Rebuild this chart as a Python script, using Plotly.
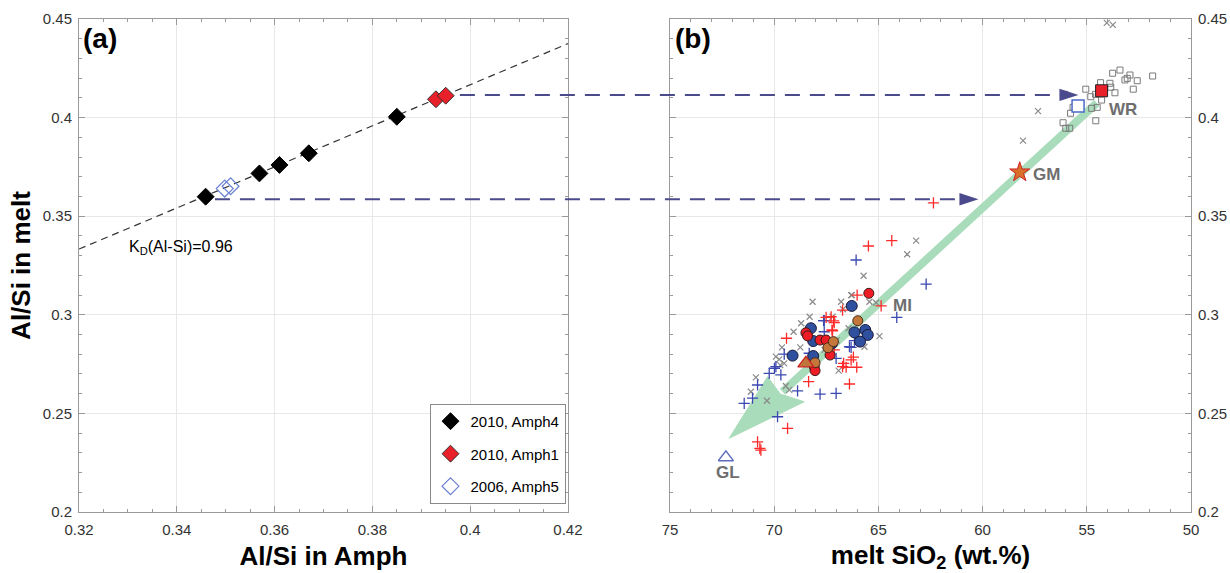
import plotly.graph_objects as go

# ---------------- data: panel (a) ----------------
amph4_x = [0.3459, 0.3569, 0.3610, 0.3670, 0.3850]
amph4_y = [0.3599, 0.3717, 0.3760, 0.3819, 0.4004]
amph1_x = [0.3930, 0.3950]
amph1_y = [0.4093, 0.4111]
amph5_x = [0.3498, 0.3510]
amph5_y = [0.3640, 0.3652]
KD = 0.96
kd_line_x = [0.32, 0.42]

# projection lines (Al/Si in melt) from panel (a) to panel (b)
proj_y = [0.4115, 0.3586]
proj_start_amph = [0.3979, 0.3478]
proj_end_sio2 = [55.40, 60.20]

# ---------------- data: panel (b) ----------------
wr_sq_x = [56.06, 55.05, 54.81, 54.58, 54.34, 53.89, 53.85, 53.65, 53.76, 53.41, 53.06, 52.93,
           53.17, 52.58, 52.77, 51.84, 54.29, 54.50, 54.77, 55.66, 55.78, 54.57, 56.14, 56.01, 55.82]
wr_sq_y = [0.4118, 0.4144, 0.4106, 0.4118, 0.4177, 0.4174, 0.4154, 0.4126, 0.4225, 0.4241, 0.4199, 0.4216,
           0.4191, 0.4187, 0.4144, 0.4211, 0.4089, 0.4052, 0.4047, 0.4052, 0.4022, 0.3984, 0.3974, 0.3946, 0.3946]

gray_x_x = [54.04, 53.75, 57.34, 58.06, 63.19, 63.62, 65.71, 68.16, 66.31, 66.79, 65.43, 67.20, 64.95,
            66.43, 68.71, 69.07, 69.63, 68.75, 69.76, 69.52, 69.71, 70.88, 71.12, 70.35, 69.28, 69.44,
            66.91, 65.67, 66.70, 66.27, 67.58, 65.11, 69.92, 67.00, 68.30]
gray_x_y = [0.4480, 0.4470, 0.4033, 0.3883, 0.3376, 0.3307, 0.3198, 0.3066, 0.3100, 0.3066, 0.3066, 0.2990, 0.2892,
            0.2932, 0.2957, 0.2914, 0.2835, 0.2835, 0.2774, 0.2754, 0.2745, 0.2683, 0.2610, 0.2564, 0.2619, 0.2639,
            0.2717, 0.2838, 0.3028, 0.3100, 0.2822, 0.3061, 0.2788, 0.2870, 0.2990]

red_plus_x = [62.36, 65.48, 64.36, 66.02, 64.87, 66.72, 67.12, 67.20, 66.31, 66.72, 69.41, 68.35, 69.36,
              70.80, 70.69, 70.64, 66.39, 66.04, 66.55, 66.67, 66.20, 67.12, 67.23, 67.15, 67.51, 67.27]
red_plus_y = [0.3568, 0.3349, 0.3376, 0.3100, 0.3045, 0.3024, 0.2960, 0.2919, 0.2771, 0.2737, 0.2881, 0.2661, 0.2424,
              0.2356, 0.2323, 0.2314, 0.2649, 0.2734, 0.2734, 0.2754, 0.2785, 0.2822, 0.2923, 0.2969, 0.2987, 0.2990]

blue_plus_x = [66.07, 62.71, 64.12, 67.60, 67.60, 66.31, 67.03, 69.52, 69.92, 68.32, 69.99, 69.68, 70.24,
               70.80, 71.04, 71.44, 68.88, 69.84, 67.80, 67.03, 66.39, 66.15, 67.63]
blue_plus_y = [0.3278, 0.3156, 0.2987, 0.2970, 0.2914, 0.2835, 0.2779, 0.2801, 0.2737, 0.2805, 0.2729, 0.2695, 0.2703,
               0.2644, 0.2577, 0.2551, 0.2614, 0.2483, 0.2598, 0.2602, 0.2838, 0.2869, 0.2970]

blue_circ_x = [66.28, 66.15, 65.63, 65.51, 65.88, 68.24, 68.13, 67.23, 69.12, 68.13]
blue_circ_y = [0.3045, 0.2911, 0.2923, 0.2898, 0.2864, 0.2932, 0.2867, 0.2855, 0.2793, 0.2791]

red_circ_x = [65.46, 68.48, 68.40, 67.80, 67.51, 67.32, 68.08, 68.04]
red_circ_y = [0.3109, 0.2909, 0.2893, 0.2872, 0.2872, 0.2796, 0.2737, 0.2717]

brown_circ_x = [65.99, 67.42, 67.16, 68.04]
brown_circ_y = [0.2970, 0.2833, 0.2864, 0.2757]

mi_tri_x = [68.48]
mi_tri_y = [0.2754]

wr_red_x, wr_red_y = [54.29], [0.4136]
wr_blue_x, wr_blue_y = [55.42], [0.4059]
gm_x, gm_y = [58.22], [0.3723]
gl_x, gl_y = [72.32], [0.2277]

# green evolution arrow (shaft + head)
shaft_x = [54.52, 69.60]
shaft_y = [0.4074, 0.2610]
head_x = [72.16, 70.32, 69.71, 68.56, 72.16]
head_y = [0.2374, 0.2686, 0.2598, 0.2559, 0.2374]

labels_b = ["WR", "GM", "MI", "GL"]
labels_b_x = [54.04, 57.66, 64.38, 72.21]
labels_b_y = [0.4042, 0.3714, 0.3045, 0.2198]
labels_b_anchor = ["left", "left", "left", "center"]

# ---------------- layout constants ----------------
FONT = "Liberation Sans, Arial, sans-serif"
dom_a = [0.0, 0.4397]
dom_b = [0.5315, 1.0]
XA_RANGE = [0.32, 0.42]
XB_RANGE = [75, 50]
Y_RANGE = [0.2, 0.45]
PURPLE = "#4a4a8c"

fig = go.Figure()

# panel (a)
fig.add_trace(go.Scatter(x=kd_line_x, y=[v / KD for v in kd_line_x], mode="lines",
                         line=dict(color="#333333", width=1.2, dash="7px,5px"),
                         showlegend=False, xaxis="x", yaxis="y", hoverinfo="skip"))
fig.add_trace(go.Scatter(x=amph4_x, y=amph4_y, mode="markers", name="2010, Amph4",
                         marker=dict(symbol="diamond", size=13, color="black", line=dict(color="black", width=1)),
                         xaxis="x", yaxis="y", legendgroup="a4"))
fig.add_trace(go.Scatter(x=amph1_x, y=amph1_y, mode="markers", name="2010, Amph1",
                         marker=dict(symbol="diamond", size=13, color="#e8202a", line=dict(color="#333333", width=1)),
                         xaxis="x", yaxis="y", legendgroup="a1"))
fig.add_trace(go.Scatter(x=amph5_x, y=amph5_y, mode="markers", name="2006, Amph5",
                         marker=dict(symbol="diamond-open", size=13, color="#6a7fd0", line=dict(width=1.2)),
                         xaxis="x", yaxis="y", legendgroup="a5"))

# panel (b): green arrow
GREEN = "#a9dcba"
fig.add_trace(go.Scatter(x=shaft_x, y=shaft_y, mode="lines", line=dict(color=GREEN, width=8),
                         showlegend=False, xaxis="x2", yaxis="y2", hoverinfo="skip"))
fig.add_trace(go.Scatter(x=head_x, y=head_y, mode="lines", fill="toself", fillcolor=GREEN,
                         line=dict(color=GREEN, width=1), showlegend=False, xaxis="x2", yaxis="y2",
                         hoverinfo="skip"))

def pts(x, y, marker):
    fig.add_trace(go.Scatter(x=x, y=y, mode="markers", marker=marker, showlegend=False,
                             xaxis="x2", yaxis="y2"))

pts(wr_sq_x, wr_sq_y, dict(symbol="square-open", size=6, color="#7a7a7a", line=dict(width=1)))
pts(gray_x_x, gray_x_y, dict(symbol="x-thin-open", size=6, color="#8a8a8a", line=dict(width=1.2, color="#8a8a8a")))
pts(blue_plus_x, blue_plus_y, dict(symbol="cross-thin-open", size=8, color="#3a48b0", line=dict(width=1.3, color="#3a48b0")))
pts(red_plus_x, red_plus_y, dict(symbol="cross-thin-open", size=8, color="#ff2a2a", line=dict(width=1.3, color="#ff2a2a")))
pts(blue_circ_x, blue_circ_y, dict(symbol="circle", size=11, color="#2f4f9f", line=dict(width=1, color="#1b1b3a")))
pts(red_circ_x, red_circ_y, dict(symbol="circle", size=10, color="#ee1c24", line=dict(width=1, color="#3a1a1a")))
pts(brown_circ_x, brown_circ_y, dict(symbol="circle", size=10, color="#c4773b", line=dict(width=1, color="#4a2a1a")))
pts(mi_tri_x, mi_tri_y, dict(symbol="triangle-up", size=14, color="#c0763a", line=dict(width=1.2, color="#d02020")))
pts(gl_x, gl_y, dict(symbol="triangle-up-open", size=13, color="#5b6bc0", line=dict(width=1.5)))
pts(gm_x, gm_y, dict(symbol="star", size=15, color="#d9702a", line=dict(width=1, color="#d02020")))
pts(wr_blue_x, wr_blue_y, dict(symbol="square", size=12, color="white", line=dict(width=1.5, color="#4a6ac8")))
pts(wr_red_x, wr_red_y, dict(symbol="square", size=12, color="#e8202a", line=dict(width=1, color="#222222")))

# arrowheads at the end of the projection lines
pts(proj_end_sio2, proj_y, dict(symbol="arrow", angle=90, size=20, color=PURPLE, line=dict(width=0)))

# dashed projection lines crossing both panels (paper coordinates derived from data)
def xa_to_paper(v):
    return dom_a[0] + (v - XA_RANGE[0]) / (XA_RANGE[1] - XA_RANGE[0]) * (dom_a[1] - dom_a[0])

def xb_to_paper(v):
    return dom_b[0] + (XB_RANGE[0] - v) / (XB_RANGE[0] - XB_RANGE[1]) * (dom_b[1] - dom_b[0])

def y_to_paper(v):
    return (v - Y_RANGE[0]) / (Y_RANGE[1] - Y_RANGE[0])

shapes = []
for ys, xs, xe in zip(proj_y, proj_start_amph, proj_end_sio2):
    shapes.append(dict(type="line", xref="paper", yref="paper",
                       x0=xa_to_paper(xs), x1=xb_to_paper(xe + 0.3),
                       y0=y_to_paper(ys), y1=y_to_paper(ys),
                       line=dict(color=PURPLE, width=2, dash="15px,10px"), layer="above"))

annotations = [
    dict(text="<b>(a)</b>", xref="x domain", yref="y domain", x=0.005, y=0.995, xanchor="left",
         yanchor="top", showarrow=False, font=dict(size=28, color="black", family=FONT)),
    dict(text="<b>(b)</b>", xref="x2 domain", yref="y2 domain", x=0.005, y=0.995, xanchor="left",
         yanchor="top", showarrow=False, font=dict(size=28, color="black", family=FONT)),
    dict(text="K<sub>D</sub>(Al-Si)=0.96", xref="x", yref="y", x=0.3298, y=0.3339, xanchor="left",
         yanchor="middle", showarrow=False, font=dict(size=16, color="black", family=FONT)),
]
for t, lx, ly, anc in zip(labels_b, labels_b_x, labels_b_y, labels_b_anchor):
    annotations.append(dict(text=f"<b>{t}</b>", xref="x2", yref="y2", x=lx, y=ly, xanchor=anc,
                            yanchor="middle", showarrow=False,
                            font=dict(size=17, color="#6e6e6e", family=FONT)))

axis_common = dict(showline=True, linecolor="#9a9a9a", linewidth=1, mirror="ticks",
                   ticks="inside", ticklen=6, tickcolor="#9a9a9a", showgrid=True,
                   gridcolor="#e8e8e8", gridwidth=1, zeroline=False, automargin=False,
                   tickfont=dict(size=15, color="#333333", family=FONT))

TITLE_FONT = dict(size=26, color="black", family=FONT)

fig.update_layout(
    width=1230, height=573,
    margin=dict(l=79, r=39, t=19, b=61),
    paper_bgcolor="white", plot_bgcolor="white",
    font=dict(family=FONT),
    xaxis=dict(domain=dom_a, range=XA_RANGE, anchor="y", tickvals=[0.32, 0.34, 0.36, 0.38, 0.40, 0.42],
               ticktext=["0.32", "0.34", "0.36", "0.38", "0.4", "0.42"],
               minor=dict(ticks="inside", dtick=0.005, ticklen=3, tickcolor="#9a9a9a"),
               title=dict(text="<b>Al/Si in Amph</b>", font=TITLE_FONT, standoff=9),
               ticklabelstandoff=4, **axis_common),
    yaxis=dict(domain=[0, 1], range=Y_RANGE, anchor="x", tickvals=[0.2, 0.25, 0.3, 0.35, 0.4, 0.45],
               ticktext=["0.2", "0.25", "0.3", "0.35", "0.4", "0.45"],
               minor=dict(ticks="inside", dtick=0.01, ticklen=3, tickcolor="#9a9a9a"),
               title=dict(text="<b>Al/Si in melt</b>", font=TITLE_FONT, standoff=4),
               ticklabelstandoff=3, **axis_common),
    xaxis2=dict(domain=dom_b, range=XB_RANGE, anchor="y2", tickvals=[75, 70, 65, 60, 55, 50],
                minor=dict(ticks="inside", dtick=1, ticklen=3, tickcolor="#9a9a9a"),
                title=dict(text="<b>melt SiO<sub>2</sub> (wt.%)</b>", font=TITLE_FONT, standoff=9),
                ticklabelstandoff=4, **axis_common),
    yaxis2=dict(domain=[0, 1], range=Y_RANGE, anchor="x2", side="right",
                tickvals=[0.2, 0.25, 0.3, 0.35, 0.4, 0.45],
                ticktext=["0.2", "0.25", "0.3", "0.35", "0.4", "0.45"],
                minor=dict(ticks="inside", dtick=0.01, ticklen=3, tickcolor="#9a9a9a"),
                ticklabelstandoff=3, **axis_common),
    legend=dict(x=xa_to_paper(0.4195), y=y_to_paper(0.2548), xanchor="right", yanchor="top",
                bgcolor="white", bordercolor="#8a8a8a", borderwidth=1,
                font=dict(size=15, color="black", family=FONT), tracegroupgap=10,
                traceorder="grouped", itemwidth=30),
    shapes=shapes,
    annotations=annotations,
)

fig.write_html("out.html")
